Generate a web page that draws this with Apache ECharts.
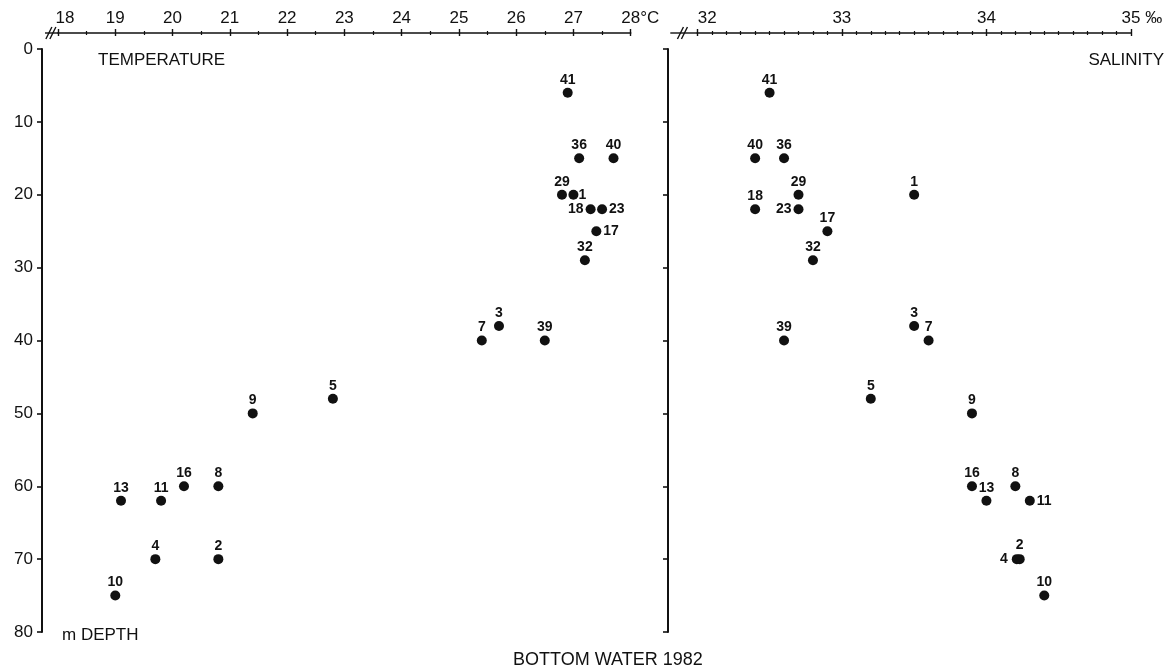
<!DOCTYPE html>
<html>
<head>
<meta charset="utf-8">
<script src="https://cdn.jsdelivr.net/npm/echarts@6/dist/echarts.min.js"></script>
<style>
  html, body { margin: 0; padding: 0; background: #fff; }
  #chart { width: 1176px; height: 671px; }
</style>
</head>
<body>
<div id="chart"></div>
<script>
// Bottom water stations, 1982: depth (m), temperature (°C), salinity (‰)
const stations    = [1, 2, 3, 4, 5, 7, 8, 9, 10, 11, 13, 16, 17, 18, 23, 29, 32, 36, 39, 40, 41];
const depth       = [20, 70, 38, 70, 48, 40, 60, 50, 75, 62, 62, 60, 25, 22, 22, 20, 29, 15, 40, 15, 6];
const temperature = [27.0, 20.8, 25.7, 19.7, 22.8, 25.4, 20.8, 21.4, 19.0, 19.8, 19.1, 20.2, 27.4, 27.3, 27.5, 26.8, 27.2, 27.1, 26.5, 27.7, 26.9];
const salinity    = [33.5, 34.23, 33.5, 34.21, 33.2, 33.6, 34.2, 33.9, 34.4, 34.3, 34.0, 33.9, 32.9, 32.4, 32.7, 32.7, 32.8, 32.6, 32.6, 32.4, 32.5];

// Axis ranges and tick values
const depthTicks = [0, 10, 20, 30, 40, 50, 60, 70, 80];
const tempRange  = [18, 28];
const salRange   = [32, 35];

// Where a station number sits beside its dot when it is not above it
const tempLabelPlace = {
  1:  { position: 'right', distance: 0, offset: [-2, -6] },
  18: { position: 'left', distance: 2, offset: [0, 6] },
  23: { position: 'right', distance: 2 },
  17: { position: 'right', distance: 2 }
};
const salLabelPlace = {
  23: { position: 'left', distance: 2 },
  11: { position: 'right', distance: 2 },
  4:  { position: 'left', distance: 4 },
  2:  { position: 'top', distance: 2, offset: [6, 0] }
};

const FONT = '"Liberation Sans", Arial, Helvetica, sans-serif';
const INK = '#111';

function points(xs, place) {
  return stations.map((s, i) => {
    const item = { value: [xs[i], depth[i], s] };
    if (place[s]) item.label = place[s];
    return item;
  });
}

function topAxis(gridIndex, range, minorSplit, formatter, rich) {
  const base = {
    gridIndex, type: 'value', position: 'top', offset: 16,
    min: range[0], max: range[1], interval: 1,
    splitLine: { show: false }, minorSplitLine: { show: false }
  };
  return [
    Object.assign({}, base, {
      axisLine: { show: true, onZero: false, lineStyle: { color: INK, width: 1.6 } },
      axisTick: { show: true, inside: false, length: 4, lineStyle: { color: INK, width: 1.4 } },
      minorTick: { show: true, splitNumber: minorSplit, length: 2, lineStyle: { color: INK, width: 1.2 } },
      axisLabel: { show: true, margin: 6, fontFamily: FONT, fontSize: 17, color: INK, formatter, rich }
    }),
    Object.assign({}, base, {
      axisLine: { show: false, onZero: false },
      axisTick: { show: true, inside: true, length: 3, lineStyle: { color: INK, width: 1.4 } },
      minorTick: { show: true, splitNumber: minorSplit, length: 2, lineStyle: { color: INK, width: 1.2 } },
      axisLabel: { show: false }
    })
  ];
}

const unitRich = {
  pad: { color: 'transparent', fontFamily: FONT, fontSize: 17 },
  u: { color: INK, fontFamily: FONT, fontSize: 17 },
  gap: { width: 14 },
  gap2: { width: 20 }
};

function depthAxis(gridIndex, offset, showLabels) {
  return {
    gridIndex, type: 'value', inverse: true, position: 'left', offset,
    min: depthTicks[0], max: depthTicks[depthTicks.length - 1], interval: 10,
    axisLine: { show: true, onZero: false, lineStyle: { color: INK, width: 2 } },
    axisTick: { show: true, inside: false, length: 5, lineStyle: { color: INK, width: 1.6 } },
    axisLabel: { show: showLabels, margin: 9, fontFamily: FONT, fontSize: 17, color: INK },
    splitLine: { show: false }
  };
}

function scatter(xAxisIndex, yAxisIndex, xs, place) {
  return {
    type: 'scatter', xAxisIndex, yAxisIndex,
    symbol: 'circle', symbolSize: 10,
    itemStyle: { color: INK, opacity: 1 },
    label: {
      show: true, position: 'top', distance: 1,
      formatter: p => String(p.value[2]),
      fontFamily: FONT, fontWeight: 'bold', fontSize: 14, color: INK
    },
    labelLayout: { hideOverlap: false },
    data: points(xs, place)
  };
}

const chart = echarts.init(document.getElementById('chart'), null, { renderer: 'canvas' });

const option = {
  animation: false,
  backgroundColor: '#fff',
  grid: [
    { left: 58, top: 49, width: 572.7, height: 583 },
    { left: 697.3, top: 49, width: 433.7, height: 583 }
  ],
  xAxis: [
    ...topAxis(0, tempRange, 2,
      v => v === 18 ? '{gap| }18' : v === 28 ? '{pad|°C}28{u|°C}' : String(v), unitRich),
    ...topAxis(1, salRange, 10,
      v => v === 32 ? '{gap2| }32' : v === 35 ? '{pad| ‰}35{u| ‰}' : String(v), unitRich)
  ],
  yAxis: [depthAxis(0, 16, true), depthAxis(1, 29.3, false)],
  title: [
    { text: 'TEMPERATURE', left: 93, top: 47, textStyle: { fontFamily: FONT, fontSize: 17, fontWeight: 'normal', color: INK } },
    { text: 'SALINITY', right: 7, top: 47, textStyle: { fontFamily: FONT, fontSize: 17, fontWeight: 'normal', color: INK } },
    { text: 'm DEPTH', left: 57, top: 622, textStyle: { fontFamily: FONT, fontSize: 17, fontWeight: 'normal', color: INK } },
    { text: 'BOTTOM WATER 1982', left: 508, top: 646, textStyle: { fontFamily: FONT, fontSize: 18, fontWeight: 'normal', color: INK } }
  ],
  series: [
    scatter(0, 0, temperature, tempLabelPlace),
    scatter(2, 1, salinity, salLabelPlace)
  ]
};

chart.setOption(option);

// Axis breaks ("//") ahead of the first temperature and salinity ticks
function breakMark(x0, x1, y) {
  const line = (a, b) => ({
    type: 'line', silent: true,
    shape: { x1: a[0], y1: a[1], x2: b[0], y2: b[1] },
    style: { stroke: INK, lineWidth: 1.4 }
  });
  const mid = x0 + (x1 - x0) * 0.45;
  return [
    line([x0, y], [x1, y]),
    line([mid - 5, y + 6], [mid + 1, y - 6]),
    line([mid - 1, y + 6], [mid + 5, y - 6])
  ];
}
const t0 = chart.convertToPixel({ xAxisIndex: 0 }, tempRange[0]);
const s0 = chart.convertToPixel({ xAxisIndex: 2 }, salRange[0]);
const depth0 = chart.convertToPixel({ yAxisIndex: 0 }, depthTicks[0]);
const axisY = depth0 - 16;
chart.setOption({
  graphic: [
    ...breakMark(t0 - 13, t0, axisY),
    ...breakMark(s0 - 27, s0, axisY)
  ]
});
</script>
</body>
</html>
